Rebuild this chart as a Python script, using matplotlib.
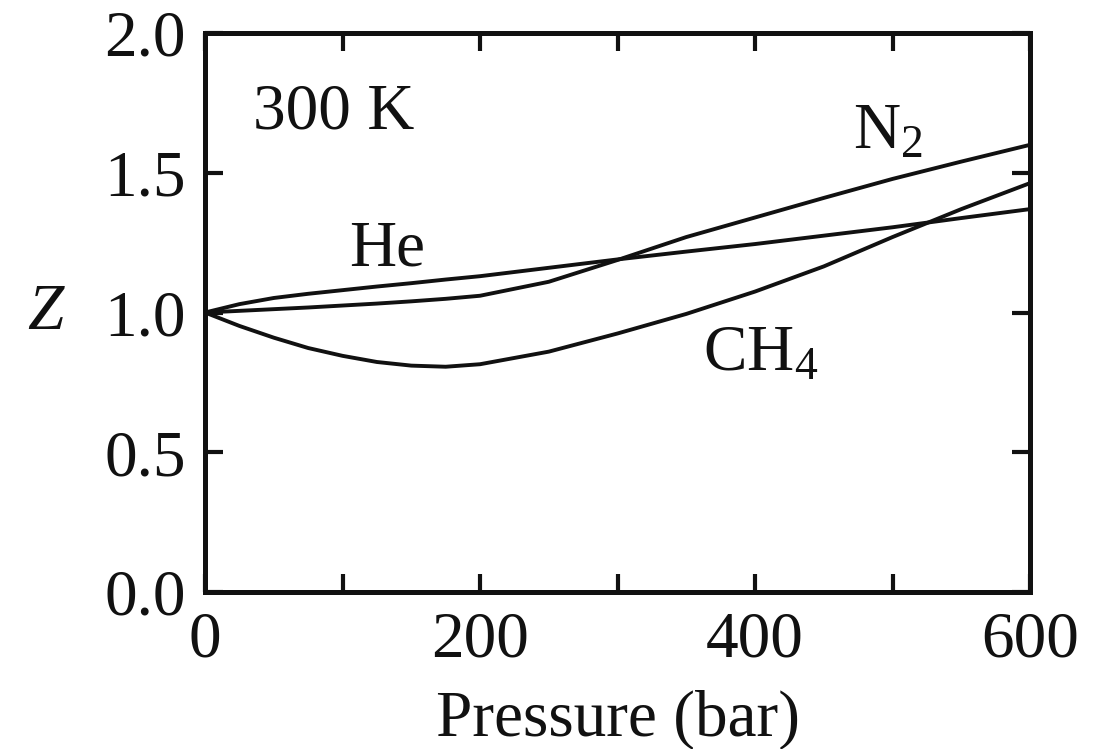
import matplotlib
matplotlib.use('Agg')
import matplotlib.pyplot as plt

# 压力 (bar) 与压缩因子 Z
pressure = [0, 25, 50, 75, 100, 125, 150, 175, 200, 250, 300, 350, 400, 450, 500, 550, 600]
z_he = [1.0, 1.03, 1.052, 1.067, 1.08, 1.093, 1.105, 1.118, 1.13, 1.16, 1.19, 1.218, 1.245, 1.275, 1.305, 1.338, 1.37]
z_n2 = [1.0, 1.006, 1.012, 1.018, 1.025, 1.032, 1.04, 1.049, 1.06, 1.11, 1.188, 1.27, 1.34, 1.41, 1.478, 1.54, 1.60]
z_ch4 = [1.0, 0.952, 0.91, 0.873, 0.845, 0.823, 0.81, 0.806, 0.815, 0.86, 0.925, 0.995, 1.075, 1.165, 1.27, 1.37, 1.463]

x_ticks = [0, 100, 200, 300, 400, 500, 600]
x_labels = ['0', '', '200', '', '400', '', '600']
y_ticks = [0.0, 0.5, 1.0, 1.5, 2.0]
y_labels = ['0.0', '0.5', '1.0', '1.5', '2.0']

plt.rcParams['font.family'] = ['Liberation Serif', 'DejaVu Serif']
plt.rcParams['mathtext.fontset'] = 'custom'
plt.rcParams['mathtext.rm'] = 'Liberation Serif'
plt.rcParams['mathtext.it'] = 'Liberation Serif:italic'

fs = 47
ink = '#111111'

fig = plt.figure(figsize=(11, 7.49), dpi=100)
ax = fig.add_axes([0.1864, 0.2096, 0.75, 0.7463])

line_kw = dict(color=ink, lw=2.8, solid_capstyle='round', solid_joinstyle='round')
ax.plot(pressure, z_he, **line_kw)
ax.plot(pressure, z_n2, **line_kw)
ax.plot(pressure, z_ch4, **line_kw)

ax.set_xlim(0, 600)
ax.set_ylim(0, 2.0)
ax.set_xticks(x_ticks)
ax.set_xticklabels(x_labels)
ax.set_yticks(y_ticks)
ax.set_yticklabels(y_labels)

for s in ax.spines.values():
    s.set_linewidth(3.6)
    s.set_color(ink)
ax.tick_params(direction='in', length=13, width=3, top=True, right=True,
               labelsize=fs, pad=14, colors=ink)

ax.set_xlabel('Pressure (bar)', fontsize=fs, labelpad=14, color=ink)
fig.text(45 / 1100, 1 - 313 / 749, 'Z', fontsize=fs, style='italic',
         ha='center', va='center', color=ink)

txt_kw = dict(fontsize=fs, color=ink, ha='left', va='baseline')
ax.text(35, 1.66, '300 K', **txt_kw)
ax.text(105, 1.17, 'He', **txt_kw)
ax.text(471, 1.589, r'N$_2$', **txt_kw)
ax.text(362, 0.794, r'CH$_4$', **txt_kw)

fig.savefig('out.png', dpi=100)
